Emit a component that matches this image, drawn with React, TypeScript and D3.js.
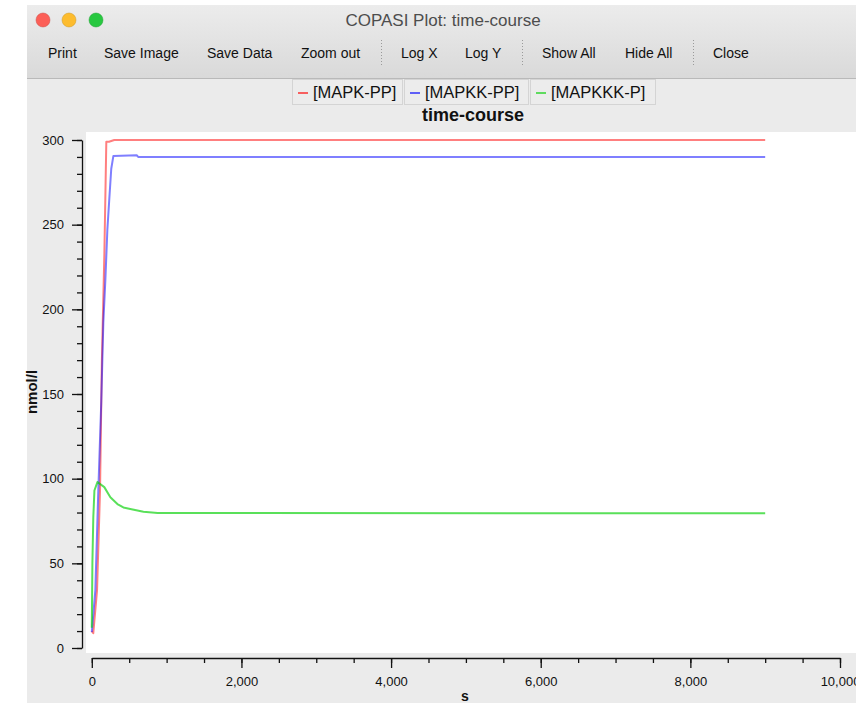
import React, { useEffect, useRef } from 'react';
import * as d3 from 'd3';

// time (s) / concentration (nmol/l)
const mapkPP = [
  { t: 0, v: 10 }, { t: 20, v: 8.8 }, { t: 70, v: 34 }, { t: 110, v: 93 },
  { t: 127, v: 146 }, { t: 135, v: 170 }, { t: 168, v: 233 }, { t: 194, v: 299 },
  { t: 230, v: 299 }, { t: 300, v: 300 }, { t: 9000, v: 300 },
];
const mapkkPP = [
  { t: 0, v: 9.4 }, { t: 47, v: 34 }, { t: 87, v: 93 }, { t: 127, v: 146 },
  { t: 154, v: 192 }, { t: 181, v: 217 }, { t: 208, v: 247 }, { t: 235, v: 266 },
  { t: 260, v: 283 }, { t: 288, v: 290.5 }, { t: 600, v: 291 }, { t: 620, v: 290 },
  { t: 9000, v: 290 },
];
const mapkkkP = [
  { t: 0, v: 12 }, { t: 8, v: 50 }, { t: 20, v: 77 }, { t: 35, v: 93 },
  { t: 75, v: 98 }, { t: 167, v: 95 }, { t: 248, v: 89 }, { t: 342, v: 85 },
  { t: 422, v: 83 }, { t: 530, v: 82 }, { t: 690, v: 80.5 }, { t: 880, v: 79.7 },
  { t: 9000, v: 79.6 },
];

const seriesNames = ['[MAPK-PP]', '[MAPKK-PP]', '[MAPKKK-P]'];
const seriesColors = ['#ff0000', '#0000ff', '#00d000'];
const seriesData = [mapkPP, mapkkPP, mapkkkP];

const toolbarItems = ['Print', 'Save Image', 'Save Data', 'Zoom out', '|', 'Log X', 'Log Y', '|', 'Show All', 'Hide All', '|', 'Close'];
const toolbarX = [48, 104, 207, 301, 381, 401, 465, 522, 542, 625, 693, 713];

const yMajor = [0, 50, 100, 150, 200, 250, 300];
const xMajor = [0, 2000, 4000, 6000, 8000, 10000];

const width = 856;
const height = 703;
const font = '"Liberation Sans", Arial, sans-serif';

export default function App() {
  const svgRef = useRef<SVGSVGElement>(null);

  useEffect(() => {
    const svg = d3.select(svgRef.current);
    svg.selectAll('*').remove();

    // window chrome
    const defs = svg.append('defs');
    const grad = defs.append('linearGradient').attr('id', 'tb').attr('x1', 0).attr('x2', 0).attr('y1', 0).attr('y2', 1);
    grad.append('stop').attr('offset', '0%').attr('stop-color', '#ececec');
    grad.append('stop').attr('offset', '100%').attr('stop-color', '#d9d9d9');

    svg.append('rect').attr('x', 27).attr('y', 5).attr('width', width - 27).attr('height', height - 5).attr('fill', '#ebebeb');
    svg.append('rect').attr('x', 27).attr('y', 5).attr('width', width - 27).attr('height', 73).attr('fill', 'url(#tb)');
    svg.append('line').attr('x1', 27).attr('x2', width).attr('y1', 78.5).attr('y2', 78.5).attr('stroke', '#b9b9b9');

    [['#fc5f57', 43], ['#fdbc2e', 69], ['#28c840', 96]].forEach(([c, cx]) => {
      svg.append('circle').attr('cx', cx).attr('cy', 20).attr('r', 7).attr('fill', c as string)
        .attr('stroke', d3.color(c as string)!.darker(0.6).toString()).attr('stroke-width', 0.5);
    });
    svg.append('text').attr('x', 443).attr('y', 26).attr('text-anchor', 'middle')
      .attr('font-family', font).attr('font-size', 17).attr('fill', '#4d4d4d').text('COPASI Plot: time-course');

    toolbarItems.forEach((label, i) => {
      if (label === '|') {
        svg.append('line').attr('x1', toolbarX[i] + 0.5).attr('x2', toolbarX[i] + 0.5).attr('y1', 40).attr('y2', 66)
          .attr('stroke', '#9a9a9a').attr('stroke-dasharray', '1,2');
      } else {
        svg.append('text').attr('x', toolbarX[i]).attr('y', 58).attr('font-family', font)
          .attr('font-size', 14).attr('fill', '#111').text(label);
      }
    });

    // legend
    const legendBoxes = [[292, 110], [404, 124], [530, 125]];
    seriesNames.forEach((name, i) => {
      const [bx, bw] = legendBoxes[i];
      svg.append('rect').attr('x', bx + 0.5).attr('y', 79.5).attr('width', bw).attr('height', 25)
        .attr('fill', '#ececec').attr('stroke', '#d4d4d4');
      svg.append('line').attr('x1', bx + 6).attr('x2', bx + 16).attr('y1', 93).attr('y2', 93)
        .attr('stroke', seriesColors[i]).attr('stroke-width', 1.2);
      svg.append('text').attr('x', bx + 21).attr('y', 98).attr('font-family', font).attr('font-size', 16.5)
        .attr('fill', '#111').text(name);
    });
    svg.append('text').attr('x', 473).attr('y', 121).attr('text-anchor', 'middle').attr('font-family', font)
      .attr('font-size', 18).attr('font-weight', 'bold').attr('fill', '#111').text('time-course');

    // plot canvas
    svg.append('rect').attr('x', 86).attr('y', 132).attr('width', width - 86).attr('height', 521).attr('fill', '#fff');

    const x = d3.scaleLinear().domain([0, 10000]).range([91.8, 840]);
    const y = d3.scaleLinear().domain([0, 300]).range([648, 140]);

    // y axis
    const yAxisMinor = d3.axisLeft(y).tickValues(d3.range(0, 301, 10)).tickSize(5).tickSizeOuter(0).tickFormat(() => '');
    const yAxis = d3.axisLeft(y).tickValues(yMajor).tickSize(10).tickSizeOuter(0).tickPadding(8);
    const gy = svg.append('g').attr('transform', 'translate(82,0)');
    gy.call(yAxisMinor);
    gy.append('g').call(yAxis).select('.domain').remove();

    // x axis
    const xAxisMinor = d3.axisBottom(x).tickValues(d3.range(0, 10001, 500)).tickSize(5).tickSizeOuter(0).tickFormat(() => '');
    const xAxis = d3.axisBottom(x).tickValues(xMajor).tickSize(10).tickSizeOuter(0).tickPadding(9)
      .tickFormat(d3.format(','));
    const gx = svg.append('g').attr('transform', 'translate(0,658)');
    gx.call(xAxisMinor);
    gx.append('g').call(xAxis).select('.domain').remove();

    svg.selectAll('.tick text').attr('font-family', font).attr('font-size', 13).attr('fill', '#111');
    svg.selectAll('.tick line, .domain').attr('stroke', '#111').attr('stroke-width', 1.3);

    svg.append('text').attr('x', 465).attr('y', 701).attr('text-anchor', 'middle').attr('font-family', font)
      .attr('font-size', 14).attr('font-weight', 'bold').attr('fill', '#111').text('s');
    svg.append('text').attr('transform', 'translate(37,392) rotate(-90)').attr('text-anchor', 'middle')
      .attr('font-family', font).attr('font-size', 15).attr('font-weight', 'bold').attr('fill', '#111').text('nmol/l');

    // curves
    const line = d3.line<{ t: number; v: number }>().x(d => x(d.t)).y(d => y(d.v));
    seriesData.forEach((data, i) => {
      svg.append('path').datum(data).attr('d', line).attr('fill', 'none')
        .attr('stroke', seriesColors[i]).attr('stroke-width', 2)
        .attr('stroke-opacity', i === 2 ? 0.65 : 0.5).attr('stroke-linejoin', 'round');
    });
  }, []);

  return (
    <svg ref={svgRef} width={width} height={height}
      style={{ position: 'absolute', left: 0, top: 0, background: '#fff' }} />
  );
}
